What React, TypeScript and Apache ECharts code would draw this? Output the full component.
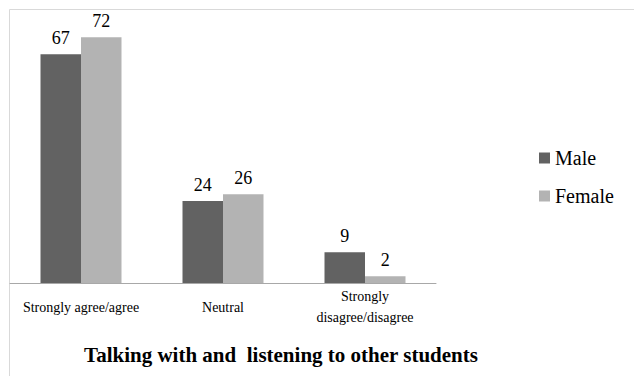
import React, { useEffect, useRef } from "react";
import * as echarts from "echarts";

const categories = ["Strongly agree/agree", "Neutral", "Strongly\ndisagree/disagree"];
const maleValues = [67, 24, 9];
const femaleValues = [72, 26, 2];
const seriesNames = ["Male", "Female"];
const chartTitle = "Talking with and  listening to other students";

const SERIF = "Liberation Serif";

export default function App() {
  const ref = useRef<HTMLDivElement>(null);

  useEffect(() => {
    if (!ref.current) return;
    const chart = echarts.init(ref.current, undefined, { renderer: "svg" });

    const valueLabel = {
      show: true,
      position: "top" as const,
      distance: 7,
      color: "#000",
      fontFamily: SERIF,
      fontSize: 18,
    };

    chart.setOption({
      animation: false,
      backgroundColor: "#fff",
      textStyle: { fontFamily: SERIF },
      grid: { left: 10, right: 198, top: 10, bottom: 93, containLabel: false },
      legend: {
        orient: "vertical",
        left: 539,
        top: 148,
        padding: 0,
        itemWidth: 11,
        itemHeight: 11,
        itemGap: 18,
        icon: "rect",
        textStyle: { fontFamily: SERIF, fontSize: 20, color: "#000" },
        data: seriesNames,
      },
      xAxis: {
        type: "category",
        data: categories,
        axisTick: { show: false },
        axisLine: { lineStyle: { color: "#a8a8a8", width: 1 } },
        axisLabel: {
          interval: 0,
          margin: 24,
          verticalAlign: "middle",
          lineHeight: 21,
          color: "#000",
          fontFamily: SERIF,
          fontSize: 14,
          align: "center",
        },
      },
      yAxis: {
        type: "value",
        min: 0,
        max: 80,
        show: false,
        splitLine: { show: false },
      },
      series: [
        {
          name: seriesNames[0],
          type: "bar",
          data: maleValues,
          barWidth: 40.5,
          barGap: "0%",
          itemStyle: { color: "#626262" },
          label: valueLabel,
        },
        {
          name: seriesNames[1],
          type: "bar",
          data: femaleValues,
          barWidth: 40.5,
          barGap: "0%",
          itemStyle: { color: "#b3b3b3" },
          label: valueLabel,
        },
      ],
      graphic: [
        {
          type: "rect",
          silent: true,
          shape: { x: 9.5, y: 9.5, width: 700, height: 500 },
          style: { fill: "none", stroke: "#d9d9d9", lineWidth: 1 },
        },
        {
          type: "text",
          x: 281,
          y: 355,
          style: {
            text: chartTitle,
            fontFamily: SERIF,
            fontSize: 21,
            fontWeight: "bold",
            fill: "#000",
            textAlign: "center",
            textVerticalAlign: "middle",
          },
        },
      ],
    });

    return () => chart.dispose();
  }, []);

  return (
    <div
      ref={ref}
      style={{ position: "fixed", left: 0, top: 0, width: 634, height: 376 }}
    />
  );
}
